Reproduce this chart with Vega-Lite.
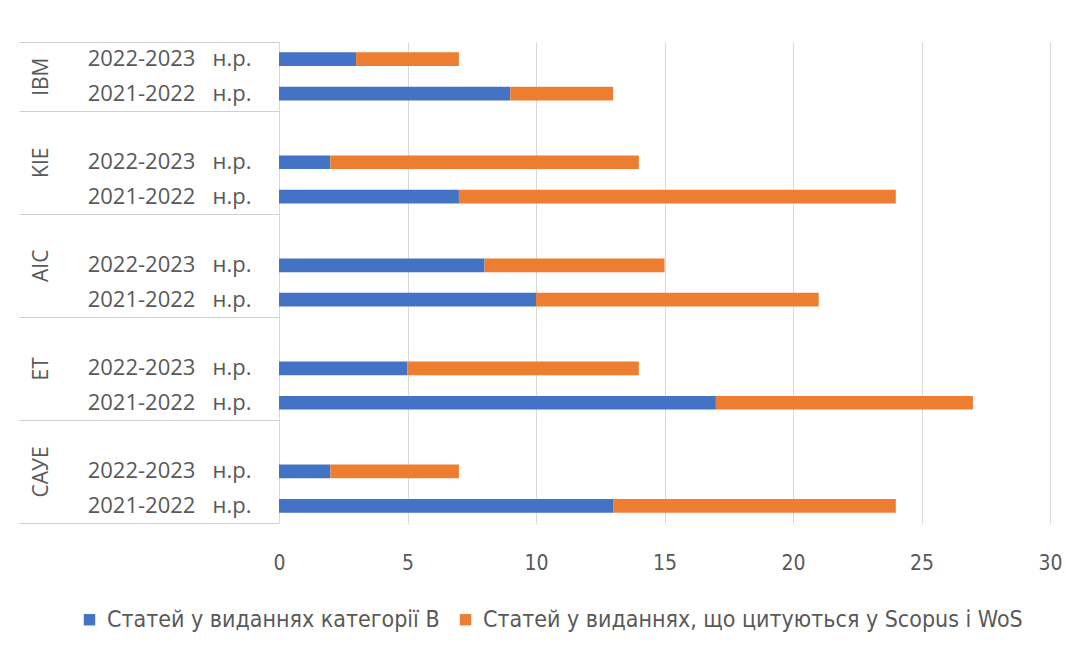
{
  "$schema": "https://vega.github.io/schema/vega-lite/v6.json",
  "width": 771,
  "height": 481,
  "autosize": {"type": "none"},
  "padding": {"left": 279, "top": 42, "right": 36, "bottom": 137},
  "background": "white",
  "config": {"view": {"stroke": null}},
  "data": {
    "values": [
      {"row": "IBM|2022-2023\u00a0\u00a0\u00a0н.р.", "series": "Статей у виданнях категорії В", "k": 1, "value": 3},
      {"row": "IBM|2022-2023\u00a0\u00a0\u00a0н.р.", "series": "Статей у виданнях, що цитуються у Scopus і WoS", "k": 2, "value": 4},
      {"row": "IBM|2021-2022\u00a0\u00a0\u00a0н.р.", "series": "Статей у виданнях категорії В", "k": 1, "value": 9},
      {"row": "IBM|2021-2022\u00a0\u00a0\u00a0н.р.", "series": "Статей у виданнях, що цитуються у Scopus і WoS", "k": 2, "value": 4},
      {"row": "KIE|2022-2023\u00a0\u00a0\u00a0н.р.", "series": "Статей у виданнях категорії В", "k": 1, "value": 2},
      {"row": "KIE|2022-2023\u00a0\u00a0\u00a0н.р.", "series": "Статей у виданнях, що цитуються у Scopus і WoS", "k": 2, "value": 12},
      {"row": "KIE|2021-2022\u00a0\u00a0\u00a0н.р.", "series": "Статей у виданнях категорії В", "k": 1, "value": 7},
      {"row": "KIE|2021-2022\u00a0\u00a0\u00a0н.р.", "series": "Статей у виданнях, що цитуються у Scopus і WoS", "k": 2, "value": 17},
      {"row": "AIC|2022-2023\u00a0\u00a0\u00a0н.р.", "series": "Статей у виданнях категорії В", "k": 1, "value": 8},
      {"row": "AIC|2022-2023\u00a0\u00a0\u00a0н.р.", "series": "Статей у виданнях, що цитуються у Scopus і WoS", "k": 2, "value": 7},
      {"row": "AIC|2021-2022\u00a0\u00a0\u00a0н.р.", "series": "Статей у виданнях категорії В", "k": 1, "value": 10},
      {"row": "AIC|2021-2022\u00a0\u00a0\u00a0н.р.", "series": "Статей у виданнях, що цитуються у Scopus і WoS", "k": 2, "value": 11},
      {"row": "ET|2022-2023\u00a0\u00a0\u00a0н.р.", "series": "Статей у виданнях категорії В", "k": 1, "value": 5},
      {"row": "ET|2022-2023\u00a0\u00a0\u00a0н.р.", "series": "Статей у виданнях, що цитуються у Scopus і WoS", "k": 2, "value": 9},
      {"row": "ET|2021-2022\u00a0\u00a0\u00a0н.р.", "series": "Статей у виданнях категорії В", "k": 1, "value": 17},
      {"row": "ET|2021-2022\u00a0\u00a0\u00a0н.р.", "series": "Статей у виданнях, що цитуються у Scopus і WoS", "k": 2, "value": 10},
      {"row": "САУЕ|2022-2023\u00a0\u00a0\u00a0н.р.", "series": "Статей у виданнях категорії В", "k": 1, "value": 2},
      {"row": "САУЕ|2022-2023\u00a0\u00a0\u00a0н.р.", "series": "Статей у виданнях, що цитуються у Scopus і WoS", "k": 2, "value": 5},
      {"row": "САУЕ|2021-2022\u00a0\u00a0\u00a0н.р.", "series": "Статей у виданнях категорії В", "k": 1, "value": 13},
      {"row": "САУЕ|2021-2022\u00a0\u00a0\u00a0н.р.", "series": "Статей у виданнях, що цитуються у Scopus і WoS", "k": 2, "value": 11}
    ]
  },
  "layer": [
    {
      "mark": {"type": "bar"},
      "encoding": {
        "y": {
          "field": "row",
          "type": "nominal",
          "scale": {
            "domain": ["IBM|2022-2023\u00a0\u00a0\u00a0н.р.", "IBM|2021-2022\u00a0\u00a0\u00a0н.р.", "gap1", "KIE|2022-2023\u00a0\u00a0\u00a0н.р.", "KIE|2021-2022\u00a0\u00a0\u00a0н.р.", "gap2", "AIC|2022-2023\u00a0\u00a0\u00a0н.р.", "AIC|2021-2022\u00a0\u00a0\u00a0н.р.", "gap3", "ET|2022-2023\u00a0\u00a0\u00a0н.р.", "ET|2021-2022\u00a0\u00a0\u00a0н.р.", "gap4", "САУЕ|2022-2023\u00a0\u00a0\u00a0н.р.", "САУЕ|2021-2022\u00a0\u00a0\u00a0н.р."],
            "paddingInner": 0.6,
            "paddingOuter": 0.3
          },
          "axis": {
            "title": null,
            "ticks": false,
            "domain": false,
            "labelExpr": "indexof(datum.value, '|') >= 0 ? split(datum.value, '|')[1] : ''",
            "labelFont": "Open Sans",
            "labelFontSize": 22,
            "labelColor": "#595959",
            "labelPadding": 28,
            "labelLimit": 400
          }
        },
        "x": {
          "field": "value",
          "type": "quantitative",
          "stack": "zero",
          "scale": {"domain": [0, 30], "nice": false},
          "axis": {
            "title": null,
            "values": [0, 5, 10, 15, 20, 25, 30],
            "grid": true,
            "gridColor": "#d9d9d9",
            "domain": false,
            "ticks": false,
            "labelFlush": false,
            "labelFont": "'DejaVu Sans Condensed', Lato",
            "labelFontSize": 21,
            "labelColor": "#595959",
            "labelPadding": 29
          }
        },
        "color": {
          "field": "series",
          "type": "nominal",
          "scale": {
            "domain": ["Статей у виданнях категорії В", "Статей у виданнях, що цитуються у Scopus і WoS"],
            "range": ["#4472C4", "#ED7D31"]
          },
          "legend": {
            "title": null,
            "orient": "none",
            "direction": "horizontal",
            "legendX": -201,
            "legendY": 566,
            "symbolType": "square",
            "symbolSize": 130,
            "symbolStrokeWidth": 0,
            "labelFont": "'DejaVu Sans Condensed', Lato",
            "labelFontSize": 23,
            "labelColor": "#595959",
            "labelLimit": 700,
            "labelOffset": 6,
            "columnPadding": 14
          }
        },
        "order": {"field": "k", "type": "quantitative"}
      }
    },
    {
      "mark": {"type": "point", "opacity": 0},
      "encoding": {
        "y": {
          "field": "row",
          "type": "nominal",
          "scale": {
            "domain": ["IBM|2022-2023\u00a0\u00a0\u00a0н.р.", "IBM|2021-2022\u00a0\u00a0\u00a0н.р.", "gap1", "KIE|2022-2023\u00a0\u00a0\u00a0н.р.", "KIE|2021-2022\u00a0\u00a0\u00a0н.р.", "gap2", "AIC|2022-2023\u00a0\u00a0\u00a0н.р.", "AIC|2021-2022\u00a0\u00a0\u00a0н.р.", "gap3", "ET|2022-2023\u00a0\u00a0\u00a0н.р.", "ET|2021-2022\u00a0\u00a0\u00a0н.р.", "gap4", "САУЕ|2022-2023\u00a0\u00a0\u00a0н.р.", "САУЕ|2021-2022\u00a0\u00a0\u00a0н.р."],
            "paddingInner": 0,
            "paddingOuter": 0
          },
          "axis": {
            "orient": "left",
            "title": null,
            "domain": false,
            "tickBand": "extent",
            "tickSize": 260,
            "tickColor": "#d0d0d0",
            "tickOpacity": {"condition": {"test": "!!datum.extra || indexof(datum.value + '', '2021-2022') >= 0", "value": 1}, "value": 0},
            "labelExpr": "indexof(datum.value + '', '2022-2023') >= 0 ? split(datum.value, '|')[0] : ''",
            "labelAngle": -90,
            "labelOffset": {"condition": {"test": "indexof(datum.value + '', 'IBM|2022-2023') >= 0", "value": 17}, "value": 0},
            "labelPadding": -32,
            "labelFont": "Open Sans",
            "labelFontSize": 21,
            "labelColor": "#595959"
          }
        },
        "x": {"field": "value", "type": "quantitative"}
      }
    }
  ],
  "resolve": {"scale": {"y": "independent"}}
}
